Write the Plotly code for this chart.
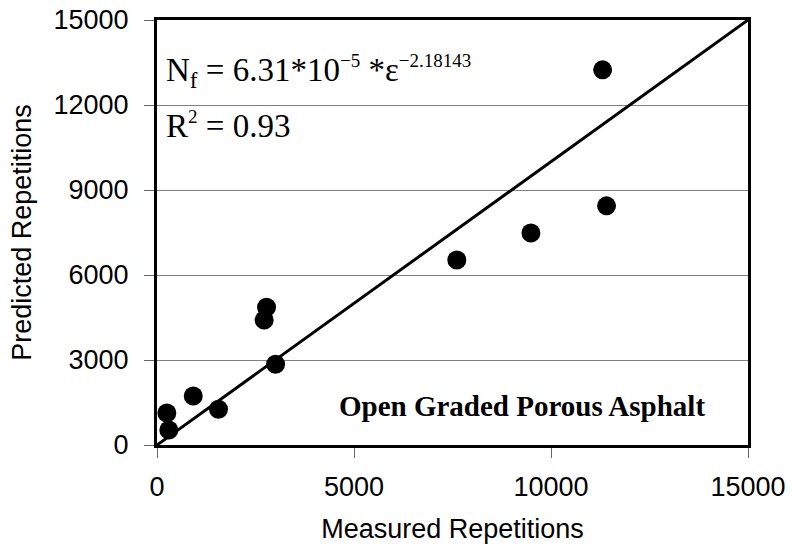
import plotly.graph_objects as go

measured = [250, 300, 920, 1560, 2780, 2720, 3010, 7610, 9490, 11310, 11410]
predicted = [1130, 530, 1730, 1260, 4860, 4410, 2850, 6530, 7480, 13240, 8440]
line_x = [0, 15000]
line_y = [0, 15000]
x_ticks = [0, 5000, 10000, 15000]
x_labels = ["0", "5000", "10000", "15000"]
y_ticks = [0, 3000, 6000, 9000, 12000, 15000]
y_labels = ["0", "3000", "6000", "9000", "12000", "15000"]

fig = go.Figure()
fig.add_trace(go.Scatter(x=line_x, y=line_y, mode="lines",
                         line=dict(color="black", width=3), showlegend=False))
fig.add_trace(go.Scatter(x=measured, y=predicted, mode="markers",
                         marker=dict(color="black", size=19), showlegend=False))

fig.update_layout(
    width=795, height=559,
    margin=dict(l=157, r=47, t=20, b=114),
    paper_bgcolor="white", plot_bgcolor="white",
    font=dict(family="Liberation Sans, Arial", size=24, color="black"),
    xaxis=dict(range=[0, 15000], tickvals=x_ticks, ticktext=x_labels, showgrid=False, zeroline=False,
               showline=True, linecolor="black", linewidth=3, mirror=True,
               ticks="outside", ticklen=10, tickwidth=1, tickcolor="#666",
               ticklabelstandoff=6, automargin=False,
               title=dict(text="Measured Repetitions", standoff=18, font=dict(size=27)),
               tickfont=dict(size=27)),
    yaxis=dict(range=[0, 15000], tickvals=y_ticks, ticktext=y_labels, showgrid=True, gridcolor="#808080",
               gridwidth=1, zeroline=False,
               showline=True, linecolor="black", linewidth=3, mirror=True,
               ticks="outside", ticklen=10, tickwidth=1, tickcolor="#666",
               ticklabelstandoff=10, automargin=False,
               title=dict(text="Predicted Repetitions", standoff=15, font=dict(size=27)),
               tickfont=dict(size=27)),
)

serif = "Liberation Serif, Times New Roman"
fig.add_annotation(xref="paper", yref="paper", x=0.012, y=0.878, xanchor="left", yanchor="middle",
                   text="N<sub>f</sub> = 6.31*10<sup><span style='font-size:19px'>−5</span></sup> *ε<sup><span style='font-size:19px'>−2.18143</span></sup>",
                   showarrow=False, font=dict(family=serif, size=33))
fig.add_annotation(xref="paper", yref="paper", x=0.012, y=0.752, xanchor="left", yanchor="middle",
                   text="R<sup><span style='font-size:19px'>2</span></sup> = 0.93",
                   showarrow=False, font=dict(family=serif, size=33))
fig.add_annotation(xref="paper", yref="paper", x=0.618, y=0.092, xanchor="center", yanchor="middle",
                   text="<b>Open Graded Porous Asphalt</b>",
                   showarrow=False, font=dict(family=serif, size=29))

fig.write_html("out.html")
